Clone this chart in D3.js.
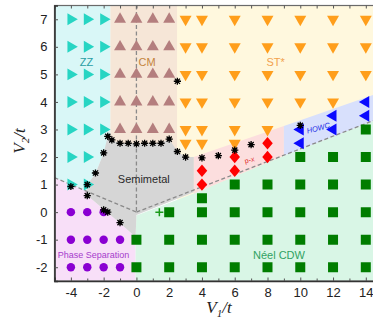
<!DOCTYPE html>
<html>
<head>
<meta charset="utf-8">
<script src="https://cdn.jsdelivr.net/npm/d3@7"></script>
<style>
  html, body { margin: 0; padding: 0; background: #fff; }
  svg { display: block; }
</style>
</head>
<body>
<svg id="chart" width="373" height="320"></svg>
<script>
// ---- phase-diagram data (V1/t, V2/t) ----
const zzPoints = [
  [-4,7],[-3,7],[-2,7],[-4,6],[-3,6],[-2,6],[-4,5],[-3,5],[-2,5],
  [-4,4],[-3,4],[-2,4],[-4,3],[-3,3],[-2,3],[-4,2],[-3,2],[-4,1],[-3,1]
];
const cmPoints = [
  [-1,7],[0,7],[1,7],[2,7],[-1,6],[0,6],[1,6],[2,6],[-1,5],[0,5],[1,5],[2,5],
  [-1,4],[0,4],[1,4],[2,4],[-1,3],[0,3],[1,3],[2,3]
];
const stPoints = [
  [3,7],[3,6],[3,5],[3,4],[3,3],[3,2.5],
  [4,7],[4,6],[4,5],[4,4],[4,3],[4,2.5],
  [6,7],[6,6],[6,5],[6,4],[6,3],[6,2.5],
  [8,7],[8,6],[8,5],[8,4],[8,3],
  [10,7],[10,6],[10,5],[10,4],
  [12,7],[12,6],[12,5],[12,4],
  [14,7],[14,6],[14,5]
];
const psPoints = [
  [-4,0],[-3,0],[-2,0],
  [-4,-1],[-3,-1],[-2,-1],[-1,-1],
  [-4,-2],[-3,-2],[-2,-2],[-1,-2]
];
const cdwPoints = [
  [0,-1],[0,-2],[2,0],[2,-1],[2,-2],
  [4,0.5],[4,0],[4,-1],[4,-2],
  [6,1],[6,0],[6,-1],[6,-2],
  [8,1],[8,0],[8,-1],[8,-2],
  [10,2],[10,1],[10,0],[10,-1],[10,-2],
  [12,2],[12,1],[12,0],[12,-1],[12,-2],
  [14,3],[14,2],[14,1],[14,0],[14,-1],[14,-2]
];
const pxPoints = [[4,1.5],[4,1],[6,2],[6,1.5],[8,2.5],[8,2]];
const howcPoints = [[10,3],[10,2.5],[12,3.5],[12,3],[14,4],[14,3.5]];
const plusPoints = [[1.4,0]];
const transitionPoints = [
  [-1.75,2.75],[-1.5,2.62],[-1,2.5],[-0.5,2.5],[0,2.48],[0.5,2.5],[1,2.5],[1.5,2.5],
  [2,2.65],[2.5,2.2],[3,2.0],[4,1.97],[5,2.05],[6,2.25],[7,2.45],[10,3.15],[2.5,4.75],
  [-2,2.15],[-2.5,1.42],[-3,1.0],[-4,0.93],[-3,0.6],[-2,0.08],[-1.75,0.0],[-1,-0.38]
];

// ---- phase regions (outline vertices in V1/t, V2/t) ----
const stRegion = [[2.48,7.5],[14.5,7.5],[14.5,-2.5],[2.48,-2.5]];
const cmRegion = [[-1.6,7.5],[2.48,7.5],[2.48,2.0],[-1.6,2.0]];
const zzRegion = [[-5,7.5],[-1.6,7.5],[-1.6,2.75],[-2,2.15],[-2.5,1.4],[-3,1.0],[-3,0.75],[-5,1.25]];
const psRegion = [[-5,1.25],[-3,0.75],[-3,0.6],[-2,0.1],[-1,-0.4],[-0.05,-0.9],[-0.05,-2.5],[-5,-2.5]];
const cdwRegion = [[-0.05,-2.5],[14.5,-2.5],[14.5,3.32],[9,2.05],[3.5,0.68],[0,-0.12],[-0.05,-0.9]];
const pxRegion = [[3.5,0.68],[9,2.05],[9,3.13],[3.5,2.0]];
const howcRegion = [[9,2.05],[14.5,3.32],[14.5,4.26],[9,3.13]];
const smRegion = [
  [-1.75,2.75],[-1.5,2.62],[-1,2.5],[1.5,2.5],[2,2.65],[2.5,2.2],[3,2.0],[3.5,2.0],
  [3.5,0.72],[0,-0.1],[-0.05,-0.9],[-1,-0.4],[-2,0.1],[-3,0.6],[-3,1.0],[-2.5,1.4],[-2,2.15]
];
const guideLines = [
  [[0,7.5],[0,0]],
  [[-5,1.25],[0,0]],
  [[0,0],[14.5,3.33]]
];

const xTicks = [-4,-2,0,2,4,6,8,10,12,14];
const yTicks = [-2,-1,0,1,2,3,4,5,6,7];

const labels = [
  {text: "ZZ", at: [-3.05,5.45], color: "#2a9ea4", size: 11},
  {text: "CM", at: [0.65,5.45], color: "#c4843c", size: 11},
  {text: "ST*", at: [8.5,5.45], color: "#f2a24e", size: 11},
  {text: "Semimetal", at: [0.45,1.2], color: "#2a2a2a", size: 11},
  {text: "Phase Separation", at: [-2.62,-1.57], color: "#a63ccc", size: 9},
  {text: "Néel CDW", at: [8.7,-1.57], color: "#30a262", size: 11},
  {text: "p-x", at: [6.9,1.9], color: "#e02020", size: 7, rotate: -14},
  {text: "HOWC", at: [11.1,3.05], color: "#1e2ee6", size: 7.5, rotate: -15, italic: true}
];

// ---- scales ----
const x = d3.scaleLinear().domain([-5, 14.5]).range([54.5, 374]);
const y = d3.scaleLinear().domain([-2.5, 7.5]).range([281, 5.5]);

const svg = d3.select("#chart");
const poly = d3.line().x(d => x(d[0])).y(d => y(d[1]));

const plot = svg.append("g");
plot.append("clipPath").attr("id", "clip")
  .append("rect").attr("x", x(-5)).attr("y", y(7.5))
  .attr("width", x(14.5) - x(-5)).attr("height", y(-2.5) - y(7.5));
const inner = plot.append("g").attr("clip-path", "url(#clip)");

// region fills
[
  [stRegion, "#fff8de"],
  [cmRegion, "#f6e6d7"],
  [zzRegion, "#d9f7f7"],
  [psRegion, "#f8dff8"],
  [cdwRegion, "#d9f6e6"],
  [pxRegion, "#fcdede"],
  [howcRegion, "#d8e0fc"],
  [smRegion, "#d6d6d6"]
].forEach(([pts, fill]) => {
  inner.append("path").attr("d", poly(pts) + "Z").attr("fill", fill);
});

// dashed guide lines
inner.selectAll("path.guide").data(guideLines).join("path")
  .attr("class", "guide")
  .attr("d", poly)
  .attr("fill", "none")
  .attr("stroke", "#8a8a8a")
  .attr("stroke-width", 1.3)
  .attr("stroke-dasharray", "4,2.5");

// custom symbol shapes
const diamond = {
  draw(ctx, size) {
    const h = Math.sqrt(size) * 0.62, w = h * 0.85;
    ctx.moveTo(0, -h); ctx.lineTo(w, 0); ctx.lineTo(0, h); ctx.lineTo(-w, 0); ctx.closePath();
  }
};

function markers(data, type, size, color, rotate) {
  inner.append("g").selectAll("path").data(data).join("path")
    .attr("transform", d => `translate(${x(d[0])},${y(d[1])}) rotate(${rotate || 0})`)
    .attr("d", d3.symbol().type(type).size(size))
    .attr("fill", color);
}

markers(stPoints, d3.symbolTriangle, 62, "#ff9e1b", 180);
markers(cmPoints, d3.symbolTriangle, 62, "#b47e7e", 0);
markers(zzPoints, d3.symbolTriangle, 62, "#27d5c3", 90);
markers(psPoints, d3.symbolCircle, 56, "#8a00d2", 0);
markers(cdwPoints, d3.symbolSquare, 100, "#007d00", 0);
markers(pxPoints, diamond, 100, "#ff0000", 0);
markers(howcPoints, d3.symbolTriangle, 62, "#0a0aff", -90);

// green cross
inner.append("g").selectAll("path").data(plusPoints).join("path")
  .attr("transform", d => `translate(${x(d[0])},${y(d[1])})`)
  .attr("d", "M-4,0H4M0,-4V4")
  .attr("stroke", "#1a9a1a").attr("stroke-width", 1.5).attr("fill", "none");

// transition points (asterisks)
const stars = inner.append("g").selectAll("g").data(transitionPoints).join("g")
  .attr("transform", d => `translate(${x(d[0])},${y(d[1])})`);
stars.append("path")
  .attr("d", "M-3.6,0H3.6M0,-3.6V3.6M-2.6,-2.6L2.6,2.6M-2.6,2.6L2.6,-2.6")
  .attr("stroke", "#000").attr("stroke-width", 1.3).attr("fill", "none");
stars.append("circle").attr("r", 2).attr("fill", "#000");

// phase labels
inner.append("g").selectAll("text").data(labels).join("text")
  .attr("transform", d => `translate(${x(d.at[0])},${y(d.at[1])}) rotate(${d.rotate || 0})`)
  .attr("text-anchor", "middle")
  .attr("dominant-baseline", "central")
  .attr("font-family", "'Liberation Sans', Arial, sans-serif")
  .attr("font-size", d => d.size)
  .attr("font-style", d => d.italic ? "italic" : "normal")
  .attr("fill", d => d.color)
  .text(d => d.text);

// frame
svg.append("rect")
  .attr("x", x(-5)).attr("y", y(7.5))
  .attr("width", x(14.5) - x(-5)).attr("height", y(-2.5) - y(7.5))
  .attr("fill", "none").attr("stroke", "#6a6a6a").attr("stroke-width", 1.2);

// axes
const axisFont = "'Liberation Sans', Arial, sans-serif";
const xAxis = svg.append("g").attr("transform", `translate(0,${y(-2.5)})`)
  .call(d3.axisBottom(x).tickValues(xTicks).tickSize(-3.5).tickPadding(7)
    .tickFormat(d => String(d)));
svg.append("g").attr("transform", `translate(0,${y(-2.5)})`)
  .call(d3.axisBottom(x).tickValues(d3.range(-5, 15, 1).filter(v => !xTicks.includes(v)))
    .tickSize(-2.5).tickFormat(""))
  .select(".domain").remove();
svg.append("g").attr("transform", `translate(0,${y(7.5)})`)
  .call(d3.axisTop(x).tickValues(d3.range(-5, 15, 1)).tickSize(-3).tickFormat(""))
  .select(".domain").remove();
const yAxis = svg.append("g").attr("transform", `translate(${x(-5)},0)`)
  .call(d3.axisLeft(y).tickValues(yTicks).tickSize(-3.5).tickPadding(7)
    .tickFormat(d => String(d)));

[xAxis, yAxis].forEach(g => {
  g.select(".domain").attr("stroke", "#333").attr("stroke-width", 1.6);
  g.selectAll("text").attr("font-family", axisFont).attr("font-size", 13).attr("fill", "#222");
});
svg.selectAll(".tick line").attr("stroke", "#555");

// axis titles
const xTitle = svg.append("text")
  .attr("x", 219).attr("y", 313)
  .attr("text-anchor", "middle")
  .attr("font-family", "'Liberation Serif', 'DejaVu Serif', serif")
  .attr("font-style", "italic").attr("font-size", 17).attr("fill", "#222");
xTitle.append("tspan").text("V");
xTitle.append("tspan").attr("font-size", 11).attr("dy", 4).text("1");
xTitle.append("tspan").attr("dy", -4).text("/t");

const yTitle = svg.append("text")
  .attr("transform", "translate(25,141) rotate(-90)")
  .attr("text-anchor", "middle")
  .attr("font-family", "'Liberation Serif', 'DejaVu Serif', serif")
  .attr("font-style", "italic").attr("font-size", 17).attr("fill", "#222");
yTitle.append("tspan").text("V");
yTitle.append("tspan").attr("font-size", 11).attr("dy", 4).text("2");
yTitle.append("tspan").attr("dy", -4).text("/t");
</script>
</body>
</html>
